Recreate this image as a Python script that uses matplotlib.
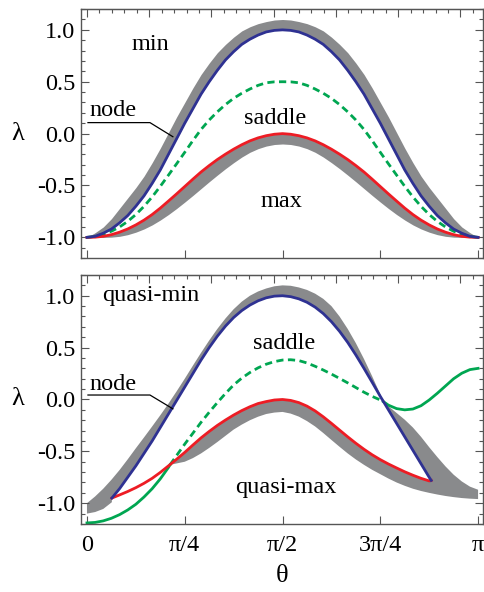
import numpy as np
import matplotlib.pyplot as plt
from matplotlib.ticker import MultipleLocator

plt.rcParams['font.family'] = ['Liberation Serif', 'DejaVu Serif']
plt.rcParams['font.size'] = 17.5

# sample points in theta (0 .. pi, step pi/48)
theta = np.linspace(0, np.pi, 49)

# ---- top panel: curves are symmetric about pi/2, values for 0 .. pi/2 ----
blue_top_half = [-1.00, -0.99, -0.96, -0.92, -0.86, -0.79, -0.70, -0.60, -0.48, -0.35, -0.20, -0.05,
                 0.10, 0.24, 0.38, 0.50, 0.61, 0.71, 0.79, 0.86, 0.91, 0.95, 0.98, 0.995, 1.00]
band_hi_top_half = [-1.00, -0.955, -0.90, -0.82, -0.72, -0.62, -0.52, -0.41, -0.28, -0.14, 0.01, 0.16,
                    0.30, 0.44, 0.57, 0.68, 0.78, 0.86, 0.93, 0.99, 1.03, 1.06, 1.08, 1.095, 1.10]
red_top_half = [-1.00, -0.998, -0.99, -0.974, -0.95, -0.919, -0.88, -0.834, -0.78, -0.718, -0.65, -0.581,
                -0.51, -0.439, -0.37, -0.308, -0.25, -0.198, -0.15, -0.107, -0.07, -0.041, -0.02, -0.006, 0.00]
band_lo_top_half = [-1.00, -1.00, -1.00, -0.998, -0.99, -0.974, -0.95, -0.919, -0.88, -0.833, -0.78, -0.722,
                    -0.66, -0.596, -0.53, -0.464, -0.40, -0.338, -0.28, -0.226, -0.18, -0.145, -0.12, -0.105, -0.10]
green_top_half = [-1.00, -0.991, -0.97, -0.941, -0.90, -0.846, -0.78, -0.701, -0.61, -0.508, -0.40, -0.291,
                  -0.18, -0.067, 0.04, 0.131, 0.21, 0.28, 0.34, 0.389, 0.43, 0.465, 0.49, 0.499, 0.50]

# ---- bottom panel ----
# blue / red run on theta[4:43], closed by a start tip and an end tip
tip_start = (0.20, -0.95)
tip_end = (2.765, -0.78)
blue_bot = [-0.86, -0.75, -0.64, -0.52, -0.40, -0.27, -0.14, -0.01, 0.12, 0.25, 0.38, 0.50, 0.61,
            0.707, 0.79, 0.857, 0.91, 0.951, 0.98, 0.996, 1.00, 0.991, 0.97, 0.937, 0.89, 0.828,
            0.75, 0.657, 0.55, 0.429, 0.30, 0.166, 0.03, -0.10, -0.23, -0.36, -0.49, -0.62, -0.75]
red_bot = [-0.92, -0.887, -0.85, -0.808, -0.76, -0.703, -0.64, -0.576, -0.51, -0.439, -0.37, -0.308,
           -0.25, -0.198, -0.15, -0.107, -0.07, -0.039, -0.02, -0.005, 0.00, -0.009, -0.03, -0.064,
           -0.11, -0.167, -0.23, -0.295, -0.36, -0.422, -0.48, -0.533, -0.58, -0.622, -0.66, -0.697,
           -0.73, -0.76, -0.785]
# green on the theta grid with the two crossing points added
cross1 = (0.667, -0.63)
cross2 = (2.38, -0.02)
green_bot = [-1.19, -1.185, -1.17, -1.145, -1.11, -1.065, -1.01, -0.94, -0.86, -0.765, -0.655,
             -0.63,
             -0.54, -0.43, -0.325, -0.22, -0.123, -0.03, 0.058, 0.14, 0.206, 0.26, 0.305, 0.34,
             0.365, 0.38, 0.383, 0.375, 0.352, 0.32, 0.284, 0.245, 0.203, 0.16, 0.115, 0.07, 0.03,
             -0.005,
             -0.02,
             -0.055, -0.088, -0.100, -0.092, -0.06, -0.005, 0.06, 0.13, 0.20, 0.253, 0.288, 0.30]
# gray bands
band_hi_bot = [-1.00, -0.935, -0.86, -0.774, -0.68, -0.577, -0.47, -0.366, -0.26, -0.152, -0.04,
               0.078, 0.20, 0.326, 0.45, 0.569, 0.68, 0.781, 0.87, 0.943, 1.00, 1.041, 1.07, 1.091,
               1.10, 1.096, 1.08, 1.056, 1.02, 0.97, 0.90, 0.80, 0.68, 0.543, 0.39, 0.224, 0.05]  # theta[0:37]
band_left_bot = [-1.10, -1.085, -1.055, -0.99]          # theta[0:3] and below the start tip
band_outer_bot = [-0.065, -0.13, -0.195, -0.27, -0.36, -0.46, -0.555, -0.645, -0.725, -0.79,
                  -0.84, -0.87]                          # theta[37:49]
band_lo_bot = [-0.60, -0.565, -0.52, -0.467, -0.41, -0.35, -0.29, -0.242, -0.20, -0.166, -0.14,
               -0.126, -0.12, -0.136, -0.165, -0.208, -0.26, -0.323, -0.39, -0.456, -0.52, -0.578,
               -0.63, -0.678, -0.72, -0.762, -0.80, -0.832, -0.86, -0.882, -0.90, -0.916, -0.93,
               -0.941, -0.95, -0.956, -0.96]             # theta[12:49]

BLUE = '#2e3192'
RED = '#ed1c24'
GREEN = '#00a651'
GRAY = '#898a8c'
FRAME = '#555555'


def mirror(half):
    half = list(half)
    return np.array(half + half[-2::-1])


fig = plt.figure(figsize=(4.85, 5.92), dpi=100)
ax1 = fig.add_axes([0.167, 0.564, 0.829, 0.4206])
ax2 = fig.add_axes([0.167, 0.1149, 0.829, 0.4206])


def style(ax, show_x):
    ax.set_xlim(-0.048, np.pi + 0.04)
    ax.set_ylim(-1.2, 1.2)
    ax.set_xticks([0, np.pi / 4, np.pi / 2, 3 * np.pi / 4, np.pi])
    if show_x:
        ax.set_xticklabels(['0', 'π/4', 'π/2', '3π/4', 'π'])
    else:
        ax.set_xticklabels([])
    ax.set_yticks([-1, -0.5, 0, 0.5, 1])
    ax.set_yticklabels(['-1.0', '-0.5', '0.0', '0.5', '1.0'])
    ax.yaxis.set_minor_locator(MultipleLocator(0.1))
    ax.tick_params(which='both', direction='in', left=True, right=True,
                   bottom=True, top=False, color=FRAME, width=0.8)
    ax.tick_params(which='major', length=6)
    ax.tick_params(which='minor', length=3)
    ax.tick_params(axis='x', which='minor', bottom=False)
    ax.tick_params(axis='x', pad=8)
    ax.tick_params(axis='y', pad=4)
    for s in ax.spines.values():
        s.set_color(FRAME)
        s.set_linewidth(1.0)
    sec = ax.secondary_xaxis('top')
    sec.set_xticks(np.arange(0, 3.01, 0.5))
    sec.xaxis.set_minor_locator(MultipleLocator(0.1))
    sec.tick_params(which='both', direction='in', labeltop=False, color=FRAME, width=0.8)
    sec.tick_params(which='major', length=6)
    sec.tick_params(which='minor', length=3)
    sec.spines['top'].set_color(FRAME)
    ax.set_ylabel('λ', rotation=0, va='center', ha='center', fontsize=19)
    ax.yaxis.set_label_coords(-0.157, 0.5)


# top panel
ax1.fill_between(theta, mirror(blue_top_half), mirror(band_hi_top_half), color=GRAY, lw=0)
ax1.fill_between(theta, mirror(band_lo_top_half), mirror(red_top_half), color=GRAY, lw=0)
ax1.plot(theta, mirror(green_top_half), color=GREEN, lw=2.0, ls=(0, (2.6, 1.6)))
ax1.plot(theta, mirror(red_top_half), color=RED, lw=2.0)
ax1.plot(theta, mirror(blue_top_half), color=BLUE, lw=2.0)
ax1.text(0.506, 0.856, 'min', ha='center', va='center')
ax1.text(1.51, 0.15, 'saddle', ha='center', va='center')
ax1.text(1.566, -0.65, 'max', ha='center', va='center')
ax1.text(0.213, 0.22, 'node', ha='center', va='center')
ax1.plot([0.008, 0.506, 0.69], [0.106, 0.106, -0.03], color='k', lw=0.9)
style(ax1, False)

# bottom panel
th_bb = np.r_[tip_start[0], theta[4:43], tip_end[0]]
blue_b = np.r_[tip_start[1], blue_bot, tip_end[1]]
red_b = np.r_[tip_start[1], red_bot, tip_end[1]]

# upper gray band, up to the pinch point near 3pi/4
px = np.r_[theta[0:37], cross2[0], theta[36:3:-1], tip_start[0], tip_start[0],
           theta[2::-1]]
py = np.r_[band_hi_bot, cross2[1], blue_bot[32::-1], tip_start[1], band_left_bot[3],
           band_left_bot[2::-1]]
ax2.fill(px, py, color=GRAY, lw=0)
# right part and the lower gray band
qx = np.r_[cross2[0], theta[37:49], theta[48:11:-1], cross1[0], theta[11:43], tip_end[0],
           theta[42:36:-1]]
qy = np.r_[cross2[1], band_outer_bot, band_lo_bot[::-1], cross1[1], red_bot[7:], tip_end[1],
           blue_bot[38:32:-1]]
ax2.fill(qx, qy, color=GRAY, lw=0)

th_g = np.insert(theta, [11, 37], [cross1[0], cross2[0]])
ax2.plot(th_g[:12], green_bot[:12], color=GREEN, lw=2.0)
ax2.plot(th_g[11:39], green_bot[11:39], color=GREEN, lw=2.0, ls=(0, (2.6, 1.6)))
ax2.plot(th_g[38:], green_bot[38:], color=GREEN, lw=2.0)
ax2.plot(th_bb, red_b, color=RED, lw=2.0)
ax2.plot(th_bb, blue_b, color=BLUE, lw=2.0)
ax2.text(0.514, 1.0, 'quasi-min', ha='center', va='center')
ax2.text(1.58, 0.54, 'saddle', ha='center', va='center')
ax2.text(1.60, -0.85, 'quasi-max', ha='center', va='center')
ax2.text(0.213, 0.14, 'node', ha='center', va='center')
ax2.plot([0.008, 0.506, 0.69], [0.043, 0.043, -0.09], color='k', lw=0.9)
style(ax2, True)
fig.text(282 / 485, 1 - 576 / 592, 'θ', ha='center', va='center', fontsize=19)

fig.savefig('out.png', dpi=100)
